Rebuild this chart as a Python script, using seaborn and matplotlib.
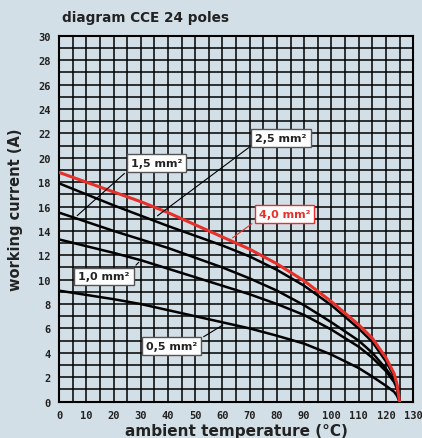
import numpy as np
import pandas as pd
import seaborn as sns
import matplotlib.pyplot as plt

temperatura = [0, 10, 20, 30, 40, 50, 60, 70, 80, 90, 100, 110, 115, 120, 123, 124, 125]
corrente_05 = [9.1, 8.75, 8.4, 8.0, 7.5, 7.0, 6.5, 6.0, 5.4, 4.75, 3.85, 2.75, 2.05, 1.3, 0.8, 0.5, 0.0]
corrente_10 = [13.3, 12.75, 12.2, 11.6, 10.9, 10.2, 9.5, 8.8, 8.0, 7.1, 5.9, 4.5, 3.6, 2.5, 1.6, 1.1, 0.0]
corrente_15 = [15.5, 14.75, 14.0, 13.3, 12.6, 11.8, 11.0, 10.1, 9.1, 7.9, 6.5, 5.0, 4.0, 2.7, 1.8, 1.2, 0.0]
corrente_25 = [17.9, 17.0, 16.1, 15.25, 14.4, 13.6, 12.8, 11.9, 10.8, 9.5, 7.9, 6.0, 4.9, 3.3, 2.1, 1.4, 0.0]
corrente_40 = [18.8, 18.0, 17.2, 16.4, 15.5, 14.5, 13.5, 12.5, 11.3, 9.9, 8.2, 6.3, 5.2, 3.6, 2.3, 1.5, 0.0]

sezioni = ['0,5', '1,0', '1,5', '2,5', '4,0']
correnti = [corrente_05, corrente_10, corrente_15, corrente_25, corrente_40]

righe = []
for sez, valori in zip(sezioni, correnti):
    for t, c in zip(temperatura, valori):
        righe.append({'temperatura': t, 'corrente': c, 'sezione': sez})
df = pd.DataFrame(righe)

sfondo = '#d3dfe7'
rosso = '#e8302a'
testo = '#222222'
sns.set_style('white')
plt.rcParams['font.family'] = ['DejaVu Sans']

fig = plt.figure(figsize=(4.22, 4.39), dpi=100, facecolor=sfondo)
ax = fig.add_axes([0.140, 0.083, 0.839, 0.833])
ax.set_facecolor(sfondo)

# griglia
for x in range(5, 130, 5):
    ax.axvline(x, color='black', lw=1.1, zorder=1)
for y in range(1, 30):
    ax.axhline(y, color='black', lw=1.1, zorder=1)

palette = {'0,5': 'black', '1,0': 'black', '1,5': 'black', '2,5': 'black', '4,0': rosso}
sns.lineplot(data=df[df.sezione != '4,0'], x='temperatura', y='corrente', hue='sezione',
             palette=palette, lw=1.8, legend=False, ax=ax, zorder=3)
sns.lineplot(data=df[df.sezione == '4,0'], x='temperatura', y='corrente', hue='sezione',
             palette=palette, lw=2.2, legend=False, ax=ax, zorder=4)

ax.set_xlim(0, 130)
ax.set_ylim(0, 30)
ax.set_xticks(range(0, 131, 10))
ax.set_xticks(range(0, 131, 5), minor=True)
ax.set_yticks(range(0, 31, 2))
for s in ax.spines.values():
    s.set_color('black')
    s.set_linewidth(1.5)
ax.tick_params(axis='both', which='both', direction='out', color='black', width=1.3)
ax.tick_params(axis='x', which='major', length=4, pad=2)
ax.tick_params(axis='x', which='minor', length=3)
ax.tick_params(axis='y', length=4, pad=2)
for lab in ax.get_xticklabels() + ax.get_yticklabels():
    lab.set_fontfamily('DejaVu Sans Mono')
    lab.set_fontweight('bold')
    lab.set_fontsize(7.5)
    lab.set_color(testo)

ax.set_xlabel('ambient temperature (°C)', fontsize=11, fontweight='bold', color=testo)
ax.set_ylabel('working current (A)', fontsize=10.5, fontweight='bold', color=testo)
ax.xaxis.set_label_coords(0.5, -0.058)
ax.yaxis.set_label_coords(-0.103, 0.527)
fig.text(0.147, 0.958, 'diagram CCE 24 poles', fontsize=9.8, fontweight='bold', color=testo,
         ha='left', va='center')

# etichette delle sezioni
box = dict(boxstyle='square,pad=0.35', fc='white', ec='#555555', lw=1)
stile = dict(fontsize=8, fontweight='bold', color=testo, ha='center', va='center', zorder=6)
ax.annotate('1,5 mm²', xy=(5.9, 15.1), xytext=(35.8, 19.6), bbox=box,
            arrowprops=dict(arrowstyle='-', color='black', lw=0.8, relpos=(0, 0)), **stile)
ax.annotate('2,5 mm²', xy=(35.3, 15.1), xytext=(81.5, 21.65), bbox=box,
            arrowprops=dict(arrowstyle='-', color='black', lw=0.8, relpos=(0, 0)), **stile)
ax.annotate('1,0 mm²', xy=(30, 11.6), xytext=(16.5, 10.26), bbox=box,
            arrowprops=dict(arrowstyle='-', color='black', lw=0.8, relpos=(1, 1)), **stile)
ax.annotate('0,5 mm²', xy=(61, 6.4), xytext=(41.2, 4.57), bbox=box,
            arrowprops=dict(arrowstyle='-', color='black', lw=0.8, relpos=(1, 1)), **stile)
box_rosso = dict(boxstyle='square,pad=0.35', fc='white', ec=rosso, lw=1)
stile_rosso = dict(stile, color=rosso)
ax.annotate('4,0 mm²', xy=(62.9, 13.3), xytext=(82.7, 15.4), bbox=box_rosso,
            arrowprops=dict(arrowstyle='-', color=rosso, lw=0.8, relpos=(0, 0)), **stile_rosso)

fig.savefig('out.png', dpi=100, facecolor=sfondo)
